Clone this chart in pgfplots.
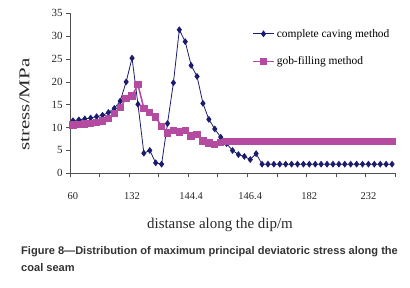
\documentclass[border=0pt]{standalone}
\usepackage{fontspec}
\setmainfont{Liberation Serif}
\newfontfamily\capfont{Liberation Sans}
\usepackage{pgfplots}
\pgfplotsset{compat=1.18}
\usepackage{pgfplotstable}
\definecolor{cav}{RGB}{28,28,110}
\definecolor{gob}{RGB}{180,75,160}
\definecolor{axg}{RGB}{80,80,80}

\pgfplotstableread{
x cav gob
0 11.5 10.6
1 11.7 10.7
2 11.9 10.8
3 12.1 10.9
4 12.4 11.1
5 12.7 11.4
6 13.3 12.0
7 14.2 13.1
8 15.8 14.4
9 20.0 16.4
10 25.2 16.9
11 15.1 19.4
12 4.4 14.2
13 5.0 13.3
14 2.3 12.3
15 2.0 10.2
16 10.9 8.8
17 19.8 9.3
18 31.4 9.0
19 28.8 9.3
20 23.6 8.2
21 21.2 8.5
22 15.3 7.1
23 11.8 6.6
24 9.7 6.3
25 7.9 6.7
26 6.5 6.9
27 5.0 6.9
28 4.1 6.9
29 3.7 6.9
30 3.0 6.9
31 4.3 6.9
32 2.0 6.9
33 2.0 6.9
34 2.0 6.9
35 2.0 6.9
36 2.0 6.9
37 2.0 6.9
38 2.0 6.9
39 2.0 6.9
40 2.0 6.9
41 2.0 6.9
42 2.0 6.9
43 2.0 6.9
44 2.0 6.9
45 2.0 6.9
46 2.0 6.9
47 2.0 6.9
48 2.0 6.9
49 2.0 6.9
50 2.0 6.9
51 2.0 6.9
52 2.0 6.9
53 2.0 6.9
54 2.0 6.9
}\data

\begin{document}
\begin{tikzpicture}
\useasboundingbox (0bp,0bp) rectangle (410bp,-288bp);
\begin{axis}[
  at={(70bp,-173.3bp)}, anchor=south west,
  scale only axis, width=325bp, height=160bp,
  xmin=-0.5, xmax=54.5, ymin=0, ymax=35,
  axis x line*=bottom, axis y line*=left,
  axis line style={draw=axg, line width=0.7bp},
  tick align=outside, major tick length=4bp,
  tick style={draw=axg, line width=0.6bp},
  ytick={0,5,...,35},
  /pgf/number format/assume math mode=true,
  yticklabel style={font=\fontsize{11}{13}\selectfont, text=black!85},
  xtick={-0.5,4.5,...,54.5},
  xticklabels={,,,,,,,,,,,,},
  extra x ticks={0,10,20,30,40,50},
  extra x tick labels={60,132,144.4,146.4,182,232},
  extra x tick style={major tick length=0pt,
     xticklabel style={font=\fontsize{10.5}{12}\selectfont, text=black!85, yshift=-16bp}},
  xlabel={distanse along the dip/m},
  ylabel={\scalebox{1.4}[1]{stress/MPa}},
  xlabel style={at={(axis description cs:0.4615,-0.323)}, anchor=center, font=\fontsize{15}{17}\selectfont, text=black!85},
  ylabel style={at={(axis description cs:-0.14,0.43)}, anchor=center, font=\fontsize{15}{17}\selectfont, text=black!85},
  legend style={at={(axis description cs:0.56,0.915)}, anchor=north west, draw=none, fill=none,
     font=\fontsize{11.5}{13}\selectfont, row sep=14bp, inner sep=0pt, cells={anchor=west}},
  legend image code/.code={\draw[mark repeat=2,mark phase=2] plot coordinates {(0bp,0bp) (10.5bp,0bp) (21bp,0bp)};},
  clip=false,
]
\addplot[color=cav, line width=0.8bp, mark=diamond*, mark size=2.8bp, mark options={solid, fill=cav}] table[x=x, y=cav] {\data};
\addlegendentry{complete caving method}
\addplot[color=gob, line width=1.6bp, mark=square*, mark size=2.9bp, mark options={solid, fill=gob}] table[x=x, y=gob] {\data};
\addlegendentry{gob-filling method}
\end{axis}
\node[anchor=north west, inner sep=0pt, align=left, text=black!80,
  font=\capfont\bfseries\fontsize{11.1}{16.5}\selectfont] at (21bp,-246.5bp)
  {Figure 8—Distribution of maximum principal deviatoric stress along the\\coal seam};
\end{tikzpicture}
\end{document}
